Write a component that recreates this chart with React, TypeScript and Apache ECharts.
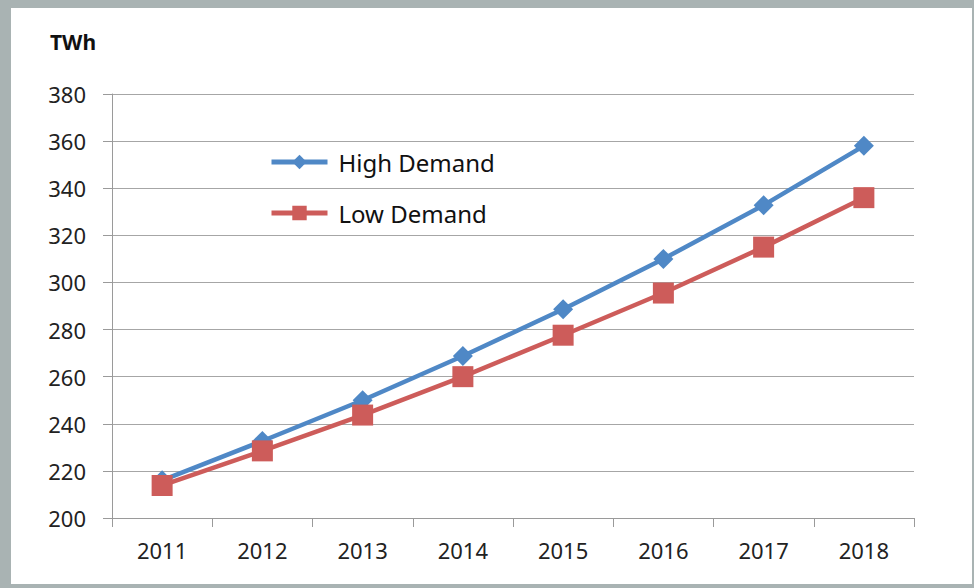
import React, { useEffect, useRef } from "react";
import * as echarts from "echarts";

const years = ["2011", "2012", "2013", "2014", "2015", "2016", "2017", "2018"];
const highDemand = [216, 232.7, 250, 268.8, 288.6, 310, 332.8, 358];
const lowDemand = [213.8, 228.5, 243.7, 260, 277.6, 295.5, 315, 336];
const yTicks = { min: 200, max: 380, interval: 20 };

export default function App() {
  const ref = useRef<HTMLDivElement>(null);
  useEffect(() => {
    if (!ref.current) return;
    const chart = echarts.init(ref.current, null, { renderer: "svg" });
    const font = "'Noto Sans', 'Open Sans', sans-serif";
    chart.setOption({
      animation: false,
      backgroundColor: "#A9B3B3",
      graphic: [
        {
          type: "rect",
          shape: { x: 11, y: 8, width: 961, height: 576 },
          style: { fill: "#ffffff" },
          z: -10,
        },
        {
          type: "text",
          left: 50,
          top: 31,
          style: { text: "TWh", font: `bold 21px ${font}`, fill: "#111" },
        },
      ],
      grid: { left: 112, right: 60, top: 94, bottom: 70 },
      legend: {
        orient: "vertical",
        left: 264,
        top: 145,
        itemWidth: 56,
        itemHeight: 18,
        itemGap: 27,
        lineStyle: { width: 5 },
        textStyle: { fontSize: 24, fontFamily: font, color: "#111", padding: [0, 0, 0, 6] },
        data: ["High Demand", "Low Demand"],
      },
      xAxis: {
        type: "category",
        data: years,
        boundaryGap: true,
        axisLine: { lineStyle: { color: "#9a9a9a", width: 1 } },
        axisTick: { show: true, length: 9, lineStyle: { color: "#9a9a9a" } },
        axisLabel: { fontSize: 22, fontFamily: font, color: "#222", margin: 21 },
      },
      yAxis: {
        type: "value",
        min: yTicks.min,
        max: yTicks.max,
        interval: yTicks.interval,
        axisLine: { show: true, lineStyle: { color: "#9a9a9a", width: 1 } },
        axisTick: { show: true, length: 9, lineStyle: { color: "#9a9a9a" } },
        axisLabel: { fontSize: 22, fontFamily: font, color: "#222", margin: 26 },
        splitLine: { lineStyle: { color: "#a6a6a6", width: 1 } },
      },
      series: [
        {
          name: "High Demand",
          type: "line",
          data: highDemand,
          symbol: "diamond",
          symbolSize: 20,
          lineStyle: { color: "#4F88C6", width: 4.5 },
          itemStyle: { color: "#4F88C6" },
          z: 2,
        },
        {
          name: "Low Demand",
          type: "line",
          data: lowDemand,
          symbol: "rect",
          symbolSize: 21,
          lineStyle: { color: "#CD5C5A", width: 4.5 },
          itemStyle: { color: "#CD5C5A" },
          z: 3,
        },
      ],
    });
    return () => chart.dispose();
  }, []);
  return (
    <div style={{ position: "fixed", left: 0, top: 0, width: 974, height: 588 }}>
      <div ref={ref} style={{ width: 974, height: 588 }} />
    </div>
  );
}
